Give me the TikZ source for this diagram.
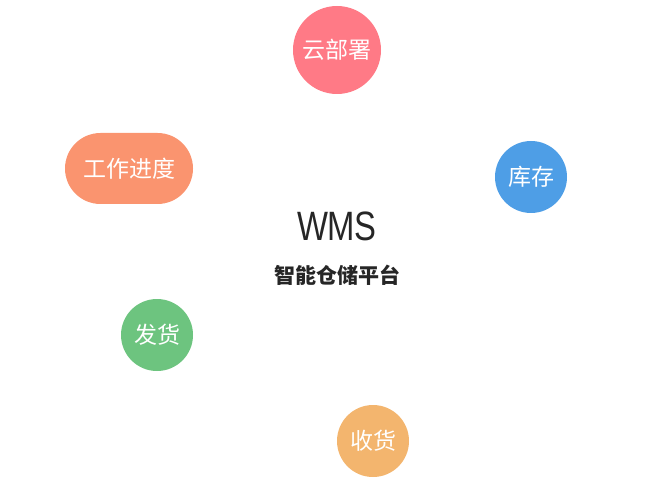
\documentclass[tikz,border=0pt]{standalone}
\usepackage{fontspec}
\setmainfont{Noto Sans CJK SC}
\newfontfamily\wmsfont[FakeStretch=0.8, LetterSpace=-2]{Liberation Sans}
\usetikzlibrary{shapes.misc}

\definecolor{cloudpink}{HTML}{FF7A86}
\definecolor{stockblue}{HTML}{4E9EE6}
\definecolor{progorange}{HTML}{FA946F}
\definecolor{shipgreen}{HTML}{6DC47F}
\definecolor{recvyellow}{HTML}{F3B56E}
\definecolor{titlegray}{HTML}{262626}

\begin{document}
\begin{tikzpicture}[
    x=1bp, y=-1bp,
    bubble/.style={circle, fill=#1, draw=none, minimum size=72bp, inner sep=0pt,
        text=white, font=\fontsize{23bp}{27bp}\selectfont},
    pill/.style={rounded rectangle, fill=#1, draw=none, minimum width=128bp,
        minimum height=71bp, inner sep=0pt, text=white,
        font=\fontsize{23bp}{27bp}\selectfont}
]
    \useasboundingbox (0,0) rectangle (669,496);
    \node[bubble=cloudpink, minimum size=88bp] (cloud) at (337,50) {云部署};
    \node[bubble=stockblue] (stock) at (531,177) {库存};
    \node[pill=progorange] (progress) at (129,168.5) {工作进度};
    \node[bubble=shipgreen] (ship) at (157,335) {发货};
    \node[bubble=recvyellow] (recv) at (373,441) {收货};
    \node[text=titlegray, font=\wmsfont\fontsize{41bp}{45bp}\selectfont] (wms) at (337,226) {WMS};
    \node[text=titlegray, font=\bfseries\fontsize{21bp}{25bp}\selectfont] (sub) at (337,275) {智能仓储平台};
\end{tikzpicture}
\end{document}
